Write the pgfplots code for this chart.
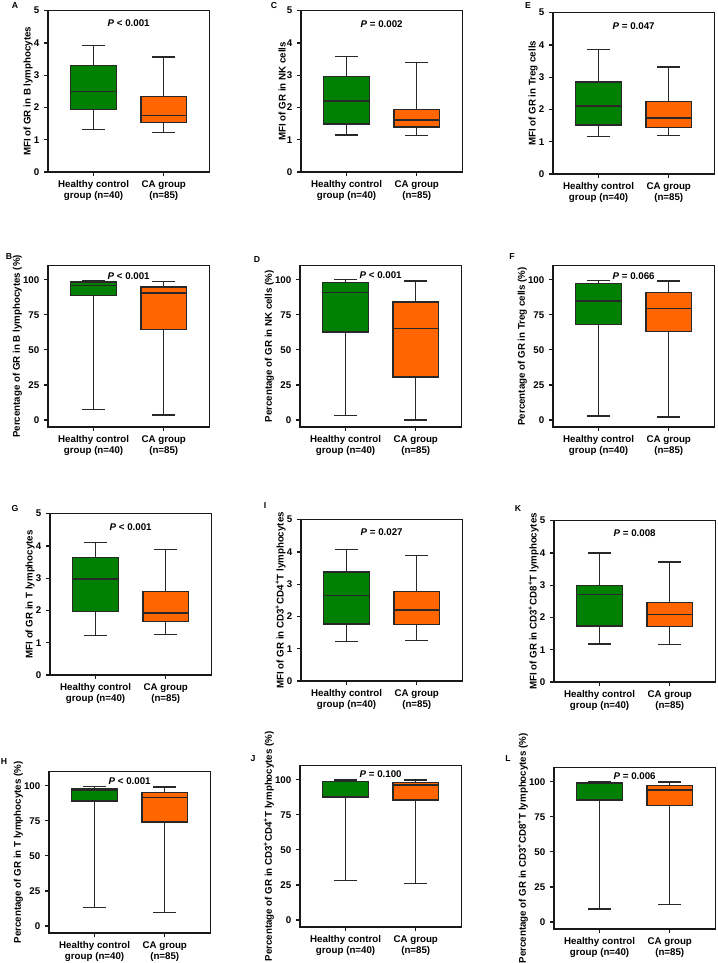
\documentclass[border=0pt]{standalone}
\usepackage{fontspec}
\setmainfont{Liberation Sans}
\usepackage{pgfplots}
\pgfplotsset{compat=1.18}
\usepgfplotslibrary{statistics}
\definecolor{cgreen}{RGB}{0,128,0}
\definecolor{corange}{RGB}{255,102,0}
\definecolor{cline}{RGB}{40,40,40}
\newcommand\myf{\bfseries\fontsize{7.3}{8.4}\selectfont}
\newcommand\gbox[5]{\addplot[draw=cline, fill=cgreen, line width=1pt, boxplot prepared={draw direction=y, lower whisker=#1, lower quartile=#2, median=#3, upper quartile=#4, upper whisker=#5, draw position=1, box extend=0.65, whisker extend=0.33}] coordinates {};}
\newcommand\obox[5]{\addplot[draw=cline, fill=corange, line width=1pt, boxplot prepared={draw direction=y, lower whisker=#1, lower quartile=#2, median=#3, upper quartile=#4, upper whisker=#5, draw position=2, box extend=0.65, whisker extend=0.33}] coordinates {};}
\pgfplotsset{
  pos/.style 2 args={at={({#1*0.75pt},{-#2*0.75pt})}},
  panel/.style={scale only axis, width=121pt, height=121pt, anchor=south west,
    xmin=0.35, xmax=2.65, xtick={1,2},
    xticklabels={{Healthy control\\group (n=40)},{CA group\\(n=85)}},
    xticklabel style={align=center, font=\myf},
    yticklabel style={font=\myf},
    ylabel style={font=\myf},
    ylabel shift=-6pt,
    tick align=outside, xtick pos=lower, ytick pos=left,
    major tick length=3pt,
    axis line style={line width=0.9pt, black!90},
    major tick style={line width=0.9pt, black!90},
    /pgf/number format/assume math mode=true, clip=false},
  mfi/.style={panel, ymin=0, ymax=5, ytick={0,1,2,3,4,5}},
  pct/.style={panel, ymin=-5, ymax=110, ytick={0,25,50,75,100}},
}
\newcommand\pval[2]{\node[font=\myf] at (axis cs:1.5,#1) {\textit{P} #2};}
\begin{document}
\begin{tikzpicture}
\useasboundingbox (0,0) rectangle (537.75pt,-722.25pt);
% A
\begin{axis}[mfi, pos={48}{172}, ylabel={MFI of GR in B lymphocytes}]
\gbox{1.31}{1.94}{2.49}{3.31}{3.93}
\obox{1.23}{1.53}{1.75}{2.35}{3.56}
\pval{4.62}{< 0.001}
\end{axis}
% B
\begin{axis}[pct, pos={48}{427}, ylabel={Percentage of GR in B lymphocytes (\%)}]
\gbox{7.6}{88.8}{96}{98.3}{99.5}
\obox{3.6}{64.3}{90.5}{94.8}{98.8}
\pval{102.8}{< 0.001}
\end{axis}
% C
\begin{axis}[mfi, pos={301}{172}, ylabel={MFI of GR in NK cells}]
\gbox{1.15}{1.49}{2.2}{2.95}{3.58}
\obox{1.14}{1.39}{1.61}{1.94}{3.40}
\pval{4.58}{= 0.002}
\end{axis}
% D
\begin{axis}[pct, pos={300}{427}, ylabel={Percentage of GR in NK cells (\%)}]
\gbox{3.1}{62.7}{90.9}{98.1}{100}
\obox{0}{30.6}{65.3}{84.2}{99}
\pval{103}{< 0.001}
\end{axis}
% E
\begin{axis}[mfi, pos={553}{174}, ylabel={MFI of GR in Treg cells}]
\gbox{1.16}{1.52}{2.11}{2.85}{3.85}
\obox{1.19}{1.45}{1.74}{2.24}{3.32}
\pval{4.58}{= 0.047}
\end{axis}
% F
\begin{axis}[pct, pos={553}{427}, ylabel={Percentage of GR in Treg cells (\%)}]
\gbox{2.8}{68.2}{84.8}{97.2}{99.5}
\obox{2.1}{63.3}{79.4}{91}{99}
\pval{102.8}{= 0.066}
\end{axis}
% G
\begin{axis}[mfi, pos={50}{675}, ylabel={MFI of GR in T lymphocytes}]
\gbox{1.23}{1.96}{2.98}{3.65}{4.11}
\obox{1.25}{1.65}{1.92}{2.59}{3.90}
\pval{4.58}{< 0.001}
\end{axis}
% H
\begin{axis}[pct, pos={49}{933}, ylabel={Percentage of GR in T lymphocytes (\%)}]
\gbox{13.4}{89.2}{96.9}{98.1}{99.5}
\obox{9.6}{74.2}{91.4}{95.2}{99}
\pval{103.3}{< 0.001}
\end{axis}
% I
\begin{axis}[mfi, pos={301}{681}, ylabel={MFI of GR in CD3\textsuperscript{+}CD4\textsuperscript{+}T lymphocytes}]
\gbox{1.23}{1.77}{2.65}{3.38}{4.07}
\obox{1.25}{1.75}{2.20}{2.78}{3.89}
\pval{4.6}{= 0.027}
\end{axis}
% J
\begin{axis}[pct, pos={300}{927}, ylabel={Percentage of GR in CD3\textsuperscript{+}CD4\textsuperscript{+}T lymphocytes (\%)}]
\gbox{28.3}{87.6}{98.6}{98.9}{99.8}
\obox{26.1}{85.5}{96.2}{98.1}{99.8}
\pval{104.3}{= 0.100}
\end{axis}
% K
\begin{axis}[mfi, pos={554}{682}, ylabel={MFI of GR in CD3\textsuperscript{+}CD8\textsuperscript{+}T lymphocytes}]
\gbox{1.18}{1.74}{2.72}{3.0}{4.0}
\obox{1.17}{1.73}{2.10}{2.47}{3.72}
\pval{4.6}{= 0.008}
\end{axis}
% L
\begin{axis}[pct, pos={554}{929}, ylabel={Percentage of GR in CD3\textsuperscript{+}CD8\textsuperscript{+}T lymphocytes (\%)}]
\gbox{9.3}{86.9}{99}{99.3}{100}
\obox{12.4}{82.9}{94.1}{97.4}{99.8}
\pval{104.3}{= 0.006}
\end{axis}
% panel letters
\begin{scope}[every node/.style={font=\bfseries\fontsize{6.5}{7}\selectfont}]
\node at (15*0.75pt,-6*0.75pt) {A};
\node at (9*0.75pt,-257*0.75pt) {B};
\node at (274*0.75pt,-6*0.75pt) {C};
\node at (257*0.75pt,-260*0.75pt) {D};
\node at (528*0.75pt,-6*0.75pt) {E};
\node at (512*0.75pt,-257*0.75pt) {F};
\node at (15*0.75pt,-509*0.75pt) {G};
\node at (4*0.75pt,-762*0.75pt) {H};
\node at (265*0.75pt,-506*0.75pt) {I};
\node at (253*0.75pt,-759*0.75pt) {J};
\node at (518*0.75pt,-509*0.75pt) {K};
\node at (508*0.75pt,-759*0.75pt) {L};
\end{scope}
\end{tikzpicture}
\end{document}
